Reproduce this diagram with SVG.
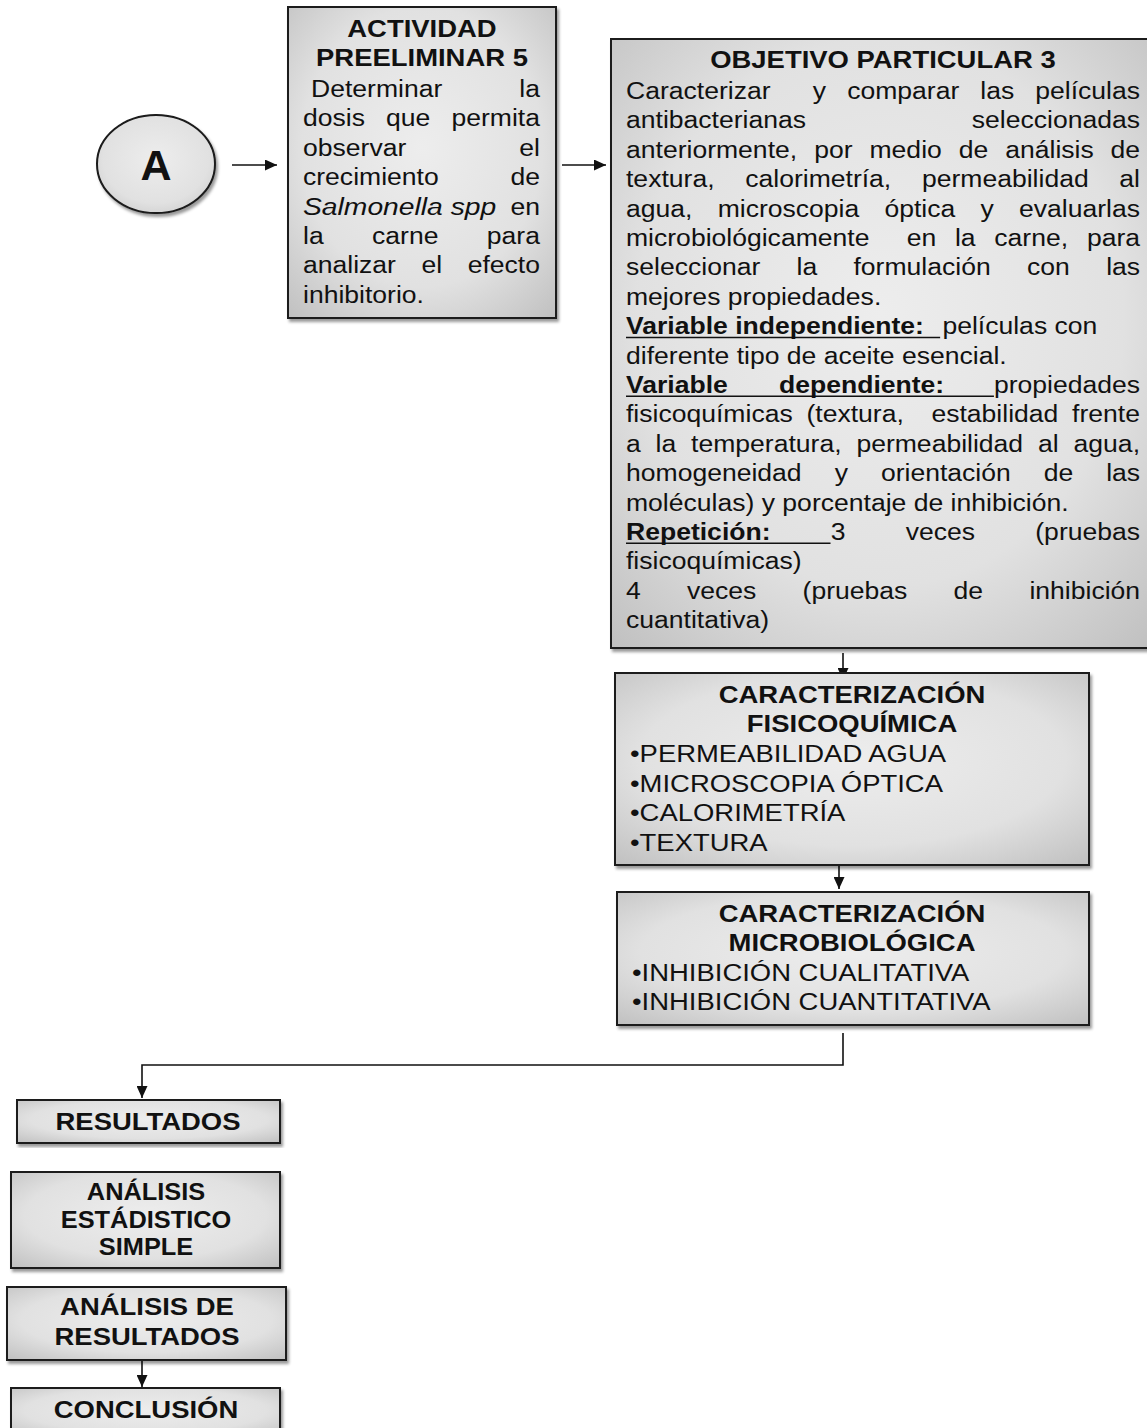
<svg xmlns="http://www.w3.org/2000/svg" width="1147" height="1428" viewBox="0 0 1147 1428">
<style>
.box{fill:url(#g);stroke:#1a1a1a;stroke-width:2;filter:url(#sh)}
.t{font-family:"Liberation Sans",Arial,sans-serif;font-size:23.5px;fill:#111}
.b{font-weight:bold;font-size:24.3px}
.bl{font-size:24.3px}
.i{font-style:italic}
.c{stroke:#111;stroke-width:1.6;fill:none}
.u{stroke:#111;stroke-width:1.6}
</style>
<defs>
<radialGradient id="g" cx="0.5" cy="0.45" r="0.75">
<stop offset="0" stop-color="#ededed"/>
<stop offset="0.6" stop-color="#e1e1e1"/>
<stop offset="1" stop-color="#bfbfbf"/>
</radialGradient>
<filter id="sh" x="-5%" y="-5%" width="115%" height="115%">
<feDropShadow dx="2" dy="3" stdDeviation="1.5" flood-color="#000" flood-opacity="0.4"/>
</filter>
<marker id="ah" viewBox="0 0 12 11" refX="12" refY="5.5" markerWidth="12" markerHeight="11" markerUnits="userSpaceOnUse" orient="auto">
<path d="M0,0 L12,5.5 L0,11 z" fill="#111"/>
</marker>
</defs>

<g id="connectors">
<line class="c" x1="232" y1="165" x2="277" y2="165" marker-end="url(#ah)"/>
<line class="c" x1="562" y1="165" x2="606" y2="165" marker-end="url(#ah)"/>
<line class="c" x1="843" y1="653" x2="843" y2="680" marker-end="url(#ah)"/>
<line class="c" x1="839" y1="866" x2="839" y2="889" marker-end="url(#ah)"/>
<polyline class="c" points="843,1033 843,1065 142,1065 142,1098" marker-end="url(#ah)"/>
<line class="c" x1="142" y1="1361" x2="142" y2="1387" marker-end="url(#ah)"/>
</g>

<g id="nodeA">
<ellipse cx="156" cy="164" rx="59" ry="49" class="box"/>
<text class="t b" x="156" y="180" text-anchor="middle" style="font-size:43px">A</text>
</g>

<g id="actividad5">
<rect class="box" x="288" y="7" width="268" height="311"/>
<g class="t" transform="translate(303,0) scale(1.13,1)">
<text class="b" x="105.3" y="37" text-anchor="middle">ACTIVIDAD</text>
<text class="b" x="105.3" y="66" text-anchor="middle">PREELIMINAR 5</text>
<text y="97"><tspan x="7.1">Determinar</tspan><tspan x="191.4">la</tspan></text>
<text y="126.4"><tspan x="0">dosis</tspan><tspan x="73.5">que</tspan><tspan x="131.4">permita</tspan></text>
<text y="155.8"><tspan x="0">observar</tspan><tspan x="191.4">el</tspan></text>
<text y="185.2"><tspan x="0">crecimiento</tspan><tspan x="183.6">de</tspan></text>
<text y="214.6"><tspan x="0" class="i" textLength="171" lengthAdjust="spacingAndGlyphs">Salmonella spp</tspan><tspan x="183.6">en</tspan></text>
<text y="244"><tspan x="0">la</tspan><tspan x="61.1">carne</tspan><tspan x="162.7">para</tspan></text>
<text y="273.4"><tspan x="0">analizar</tspan><tspan x="104.9">el</tspan><tspan x="145.7">efecto</tspan></text>
<text y="302.8" x="0">inhibitorio.</text>
</g>
</g>

<g id="objetivo3">
<rect class="box" x="611" y="39" width="540" height="609"/>
<g class="t" transform="translate(626,0) scale(1.13,1)">
<text class="b" x="227.4" y="68" text-anchor="middle">OBJETIVO PARTICULAR 3</text>
<text y="99"><tspan x="0">Caracterizar</tspan><tspan x="165.3">y</tspan><tspan x="195.7">comparar</tspan><tspan x="313.5">las</tspan><tspan x="362.2">películas</tspan></text>
<text y="128.4"><tspan x="0">antibacterianas</tspan><tspan x="306">seleccionadas</tspan></text>
<text y="157.8"><tspan x="0">anteriormente,</tspan><tspan x="166.5">por</tspan><tspan x="215.5">medio</tspan><tspan x="294.5">de</tspan><tspan x="335.6">análisis</tspan><tspan x="428.8">de</tspan></text>
<text y="187.2"><tspan x="0">textura,</tspan><tspan x="105.5">calorimetría,</tspan><tspan x="261.9">permeabilidad</tspan><tspan x="436.6">al</tspan></text>
<text y="216.6"><tspan x="0">agua,</tspan><tspan x="81.1">microscopia</tspan><tspan x="228.7">óptica</tspan><tspan x="313.7">y</tspan><tspan x="347.8">evaluarlas</tspan></text>
<text y="246"><tspan x="0">microbiológicamente</tspan><tspan x="248.5">en</tspan><tspan x="291.1">la</tspan><tspan x="325.9">carne,</tspan><tspan x="407.9">para</tspan></text>
<text y="275.4"><tspan x="0">seleccionar</tspan><tspan x="150.9">la</tspan><tspan x="201.3">formulación</tspan><tspan x="354.8">con</tspan><tspan x="424.9">las</tspan></text>
<text y="304.8" x="0">mejores propiedades.</text>
<text y="334.2"><tspan x="0" class="b" style="font-size:23.5px">Variable independiente:</tspan><tspan x="280">películas con</tspan></text>
<line class="u" x1="0" y1="337.5" x2="278" y2="337.5"/>
<text y="363.6" x="0">diferente tipo de aceite esencial.</text>
<text y="393"><tspan x="0" class="b" style="font-size:23.5px">Variable</tspan><tspan x="135.4" class="b" style="font-size:23.5px">dependiente:</tspan><tspan x="325.6">propiedades</tspan></text>
<line class="u" x1="0" y1="396.3" x2="325.6" y2="396.3"/>
<text y="422.4"><tspan x="0">fisicoquímicas</tspan><tspan x="159.7">(textura,</tspan><tspan x="270.3">estabilidad</tspan><tspan x="394.8">frente</tspan></text>
<text y="451.8"><tspan x="0">a</tspan><tspan x="26.2">la</tspan><tspan x="57.6">temperatura,</tspan><tspan x="203.9">permeabilidad</tspan><tspan x="364.6">al</tspan><tspan x="396.1">agua,</tspan></text>
<text y="481.2"><tspan x="0">homogeneidad</tspan><tspan x="184.7">y</tspan><tspan x="225.6">orientación</tspan><tspan x="369.7">de</tspan><tspan x="424.9">las</tspan></text>
<text y="510.6" x="0">moléculas) y porcentaje de inhibición.</text>
<text y="540"><tspan x="0" class="b" style="font-size:23.5px">Repetición:</tspan><tspan x="181.2">3</tspan><tspan x="247.5">veces</tspan><tspan x="362.2">(pruebas</tspan></text>
<line class="u" x1="0" y1="543.3" x2="181" y2="543.3"/>
<text y="569.4" x="0">fisicoquímicas)</text>
<text y="598.8"><tspan x="0">4</tspan><tspan x="54">veces</tspan><tspan x="156.3">(pruebas</tspan><tspan x="289.9">de</tspan><tspan x="357">inhibición</tspan></text>
<text y="628.2" x="0">cuantitativa)</text>
</g>
</g>

<g id="fisicoquimica">
<rect class="box" x="615" y="673" width="474" height="192"/>
<g class="t" transform="translate(630,0) scale(1.13,1)">
<text class="b" x="196.5" y="703" text-anchor="middle">CARACTERIZACIÓN</text>
<text class="b" x="196.5" y="732" text-anchor="middle">FISICOQUÍMICA</text>
<text class="bl" x="0" y="762">•PERMEABILIDAD AGUA</text>
<text class="bl" x="0" y="792">•MICROSCOPIA ÓPTICA</text>
<text class="bl" x="0" y="821">•CALORIMETRÍA</text>
<text class="bl" x="0" y="851">•TEXTURA</text>
</g>
</g>

<g id="microbiologica">
<rect class="box" x="617" y="892" width="472" height="133"/>
<g class="t" transform="translate(632,0) scale(1.13,1)">
<text class="b" x="194.7" y="922" text-anchor="middle">CARACTERIZACIÓN</text>
<text class="b" x="194.7" y="951" text-anchor="middle">MICROBIOLÓGICA</text>
<text class="bl" x="0" y="981">•INHIBICIÓN CUALITATIVA</text>
<text class="bl" x="0" y="1010">•INHIBICIÓN CUANTITATIVA</text>
</g>
</g>

<g id="resultados">
<rect class="box" x="17" y="1100" width="263" height="43"/>
<text class="t b" transform="translate(148,0) scale(1.13,1)" x="0" y="1130" text-anchor="middle">RESULTADOS</text>
</g>

<g id="analisisEstadistico">
<rect class="box" x="11" y="1172" width="269" height="96"/>
<g class="t b" transform="translate(146,0) scale(1.08,1)" style="font-size:23.5px">
<text x="0" y="1200" text-anchor="middle">ANÁLISIS</text>
<text x="0" y="1228" text-anchor="middle">ESTÁDISTICO</text>
<text x="0" y="1255" text-anchor="middle">SIMPLE</text>
</g>
</g>

<g id="analisisResultados">
<rect class="box" x="7" y="1287" width="279" height="73"/>
<g class="t b" transform="translate(147,0) scale(1.13,1)">
<text x="0" y="1315" text-anchor="middle">ANÁLISIS DE</text>
<text x="0" y="1345" text-anchor="middle">RESULTADOS</text>
</g>
</g>

<g id="conclusion">
<rect class="box" x="11" y="1388" width="269" height="50"/>
<text class="t b" transform="translate(146,0) scale(1.13,1)" x="0" y="1418" text-anchor="middle">CONCLUSIÓN</text>
</g>
</svg>
